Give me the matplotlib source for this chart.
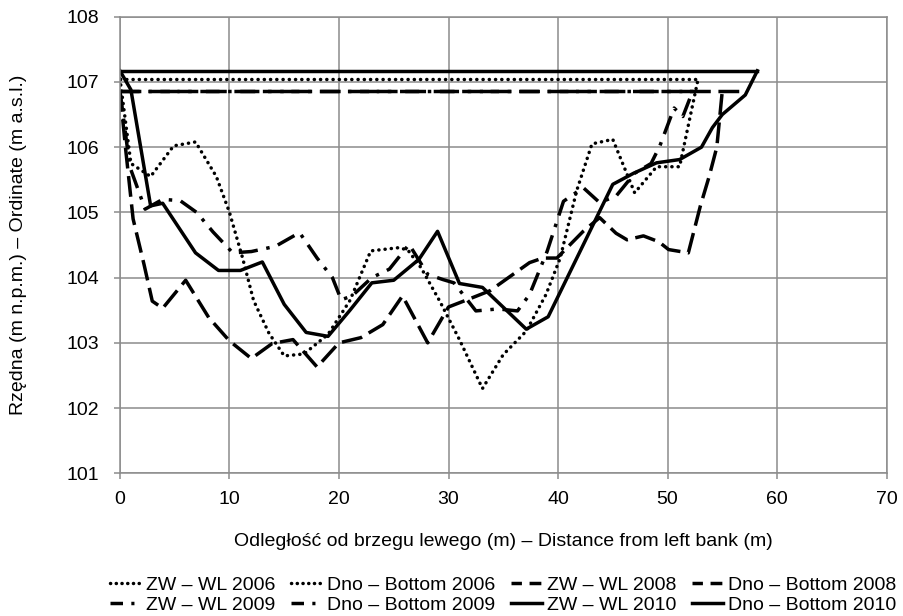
import numpy as np
import matplotlib
matplotlib.use("Agg")
import matplotlib.pyplot as plt
from matplotlib.lines import Line2D

plt.rcParams["font.family"] = ["Liberation Sans", "DejaVu Sans"]
plt.rcParams["font.size"] = 14

# Water levels (ZW - WL): level and extent (m)
zw_2006 = 107.05
zw_2006_x = [0, 52.7]
zw_2008 = 106.86
zw_2008_x = [0, 57.0]
zw_2009 = 106.86
zw_2009_x = [0, 52.3]
zw_2010 = 107.17
zw_2010_x = [0, 58.2]

# Bottom profiles (Dno - Bottom)
dno_2006_x = [0, 1.0, 2.8, 4.9, 6.9, 8.8, 10.0, 11.2, 12.2, 13.6, 15.0, 16.8, 19.0, 21.0,
              22.9, 25.5, 26.3, 27.5, 29.2, 31.0, 33.1, 35.0, 37.1, 38.9, 40.2, 41.7, 43.1,
              45.0, 47.0, 49.0, 51.1, 52.8]
dno_2006_y = [107.05, 105.75, 105.55, 106.02, 106.08, 105.55, 105.0, 104.3, 103.65, 103.15,
              102.8, 102.83, 103.13, 103.65, 104.41, 104.46, 104.42, 104.15, 103.64, 103.05,
              102.3, 102.82, 103.18, 103.74, 104.3, 105.33, 106.05, 106.12, 105.3, 105.7,
              105.7, 107.05]

dno_2008_x = [0, 0.5, 1.2, 2.2, 2.95, 3.9, 6.0, 8.1, 10.0, 12.0, 13.9, 15.8, 18.0, 20.0, 22.0,
              24.0, 25.8, 28.1, 30.0, 32.0, 33.8, 37.4, 38.6, 39.9, 42.3, 43.8, 45.3, 46.3,
              47.8, 49.2, 50.1, 51.9, 53.0, 53.8, 54.5, 55.0]
dno_2008_y = [106.86, 106.0, 104.9, 104.2, 103.64, 103.53, 103.96, 103.39, 103.03, 102.76,
              102.99, 103.05, 102.63, 103.0, 103.08, 103.28, 103.72, 103.0, 103.55, 103.68,
              103.8, 104.23, 104.3, 104.3, 104.71, 104.92, 104.68, 104.58, 104.64, 104.55,
              104.43, 104.38, 105.1, 105.55, 106.0, 106.86]

dno_2009_x = [0, 0.9, 2.3, 3.9, 5.5, 7.0, 8.5, 10.3, 12.0, 14.2, 16.4, 18.0, 19.4, 20.2, 21.2,
              23.0, 24.6, 26.4, 28.1, 29.5, 30.5, 32.5, 34.5, 36.3, 37.4, 39.0, 40.5, 42.3,
              43.8, 45.3, 47.0, 48.5, 49.3, 50.6, 51.4, 52.3]
dno_2009_y = [106.86, 105.7, 105.05, 105.2, 105.18, 105.0, 104.7, 104.38, 104.4, 104.48,
              104.69, 104.3, 104.0, 103.66, 103.72, 104.0, 104.13, 104.51, 104.05, 103.97,
              103.92, 103.49, 103.52, 103.49, 103.74, 104.4, 105.17, 105.38, 105.15, 105.25,
              105.6, 105.75, 106.02, 106.6, 106.47, 106.86]

dno_2010_x = [0, 1.0, 2.8, 3.9, 6.9, 9.0, 11.0, 13.0, 15.0, 17.0, 19.0, 21.0, 23.0, 25.0,
              27.3, 29.0, 31.0, 33.1, 37.1, 39.1, 45.0, 46.9, 49.0, 51.1, 53.1, 54.1, 55.0,
              57.1, 58.2]
dno_2010_y = [107.17, 106.88, 105.1, 105.14, 104.38, 104.11, 104.11, 104.24, 103.59, 103.16,
              103.1, 103.5, 103.92, 103.96, 104.28, 104.71, 103.91, 103.85, 103.21, 103.4,
              105.43, 105.6, 105.76, 105.81, 106.0, 106.3, 106.5, 106.8, 107.17]

grey = "#8c8c8c"
lw = 2.5
dotted = dict(ls=(0, (0.05, 1.75)), dash_capstyle="round")
dashed = dict(ls=(0, (6, 2.2)))
dashdot = dict(ls=(0, (5.5, 2.5, 1, 2.5)))
solid = dict(ls="-")

fig = plt.figure(figsize=(9.04, 6.16), dpi=100)
ax = fig.add_axes([0.1327, 0.2316, 0.848, 0.7413])

ax.plot(zw_2006_x, [zw_2006] * 2, color="black", lw=lw, **dotted)
ax.plot(dno_2006_x, dno_2006_y, color="black", lw=lw, **dotted)
ax.plot(zw_2008_x, [zw_2008] * 2, color="black", lw=lw, **dashed)
ax.plot(dno_2008_x, dno_2008_y, color="black", lw=lw, **dashed)
ax.plot(zw_2009_x, [zw_2009] * 2, color="black", lw=lw, **dashdot)
ax.plot(dno_2009_x, dno_2009_y, color="black", lw=lw, **dashdot)
ax.plot(zw_2010_x, [zw_2010] * 2, color="black", lw=lw, **solid)
ax.plot(dno_2010_x, dno_2010_y, color="black", lw=lw, **solid)

ax.set_xlim(0, 70)
ax.set_ylim(101, 108)
ax.set_xticks(np.arange(0, 71, 10))
ax.set_yticks(np.arange(101, 109, 1))
ax.grid(True, color=grey, lw=1.1)
ax.set_axisbelow(True)
for s in ax.spines.values():
    s.set_color(grey)
    s.set_linewidth(1.1)
ax.tick_params(axis="both", color=grey, length=4, width=1.1, labelcolor="black")
ax.tick_params(axis="x", pad=9)
ax.tick_params(axis="y", pad=11)

fig.text(0.5564, 0.121, "Odległość od brzegu lewego (m) – Distance from left bank (m)",
         ha="center", va="center")
fig.text(0.02, 0.602, "Rzędna (m n.p.m.) – Ordinate (m a.s.l.)",
         ha="center", va="center", rotation=90)

# legend samples use shorter patterns, like the Excel legend keys
leg_dot = Line2D([], [], color="black", lw=lw, ls=(0, (0.05, 1.6)), dash_capstyle="round")
leg_dash = Line2D([], [], color="black", lw=lw, ls=(0.4, (3.4, 2.2)))
leg_dashdot = Line2D([], [], color="black", lw=lw, ls=(0, (3.6, 2.4, 0.9, 10)))
leg_solid = Line2D([], [], color="black", lw=lw, ls="-")

handles = [leg_dot, leg_dashdot, leg_dot, leg_dashdot,
           leg_dash, leg_solid, leg_dash, leg_solid]
# ncol=4 fills column by column
labels = ["ZW – WL 2006", "ZW – WL 2009", "Dno – Bottom 2006", "Dno – Bottom 2009",
          "ZW – WL 2008", "ZW – WL 2010", "Dno – Bottom 2008", "Dno – Bottom 2010"]
fig.legend(handles, labels, ncol=4,
           loc="center", bbox_to_anchor=(0.5564, 0.034), frameon=False,
           handlelength=1.6, handletextpad=0.25, columnspacing=0.8,
           labelspacing=0.15, borderaxespad=0)

fig.savefig("out.png", dpi=100)
